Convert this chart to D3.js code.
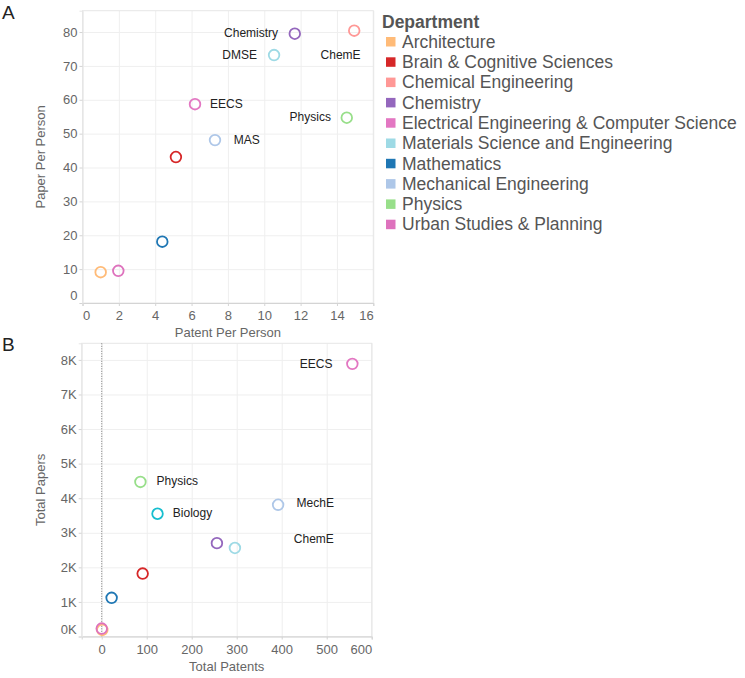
<!DOCTYPE html>
<html>
<head>
<meta charset="utf-8">
<script src="https://cdn.jsdelivr.net/npm/d3@7"></script>
<style>
  html, body { margin: 0; padding: 0; background: #fff; }
  svg { display: block; font-family: "Liberation Sans", Arial, Helvetica, sans-serif; }
</style>
</head>
<body>
<svg id="chart" width="745" height="678"></svg>
<script>
// ---------------- DATA ----------------
const departments = [
  "Architecture", "Brain & Cognitive Sciences", "Chemical Engineering", "Chemistry",
  "Electrical Engineering & Computer Science", "Materials Science and Engineering",
  "Mathematics", "Mechanical Engineering", "Physics", "Urban Studies & Planning"
];
const deptColors = ["#ffbb78", "#d62728", "#ff9896", "#9467bd", "#e377c2",
                    "#9edae5", "#1f77b4", "#aec7e8", "#98df8a", "#de72bd"];

// Panel A: per person
const patentPerPerson = [1.0, 5.14, 14.95, 11.68, 6.19, 10.54, 4.39, 7.29, 14.54, 1.97];
const paperPerPerson  = [9.1, 43.1, 80.4, 79.5, 58.7, 73.2, 18.1, 48.1, 54.7, 9.5];

// Panel B: totals
const totalDepts   = ["Architecture", "Urban Studies & Planning", "Mathematics", "Brain & Cognitive Sciences",
                      "Physics", "Biology", "Chemistry", "Materials Science and Engineering",
                      "Mechanical Engineering", "Electrical Engineering & Computer Science"];
const totalPatents = [1.3, 0, 22, 91, 86, 124, 256, 296, 392, 557];
const totalPapers  = [190, 230, 1120, 1820, 4470, 3550, 2700, 2560, 3810, 7885];
const extraColors  = { "Biology": "#17becf" };

// Point labels (text, x, y in data units, anchor)
const labelsA = [
  ["Chemistry", 10.76, 79.7, "end"],
  ["DMSE", 9.60, 73.2, "end"],
  ["ChemE", 14.2, 73.4, "middle"],
  ["EECS", 7.02, 58.9, "start"],
  ["MAS", 8.32, 48.3, "start"],
  ["Physics", 13.67, 55.0, "end"]
];
const labelsB = [
  ["EECS", 513, 7885, "end"],
  ["Physics", 122, 4490, "start"],
  ["Biology", 158, 3573, "start"],
  ["MechE", 433, 3863, "start"],
  ["ChemE", 427, 2812, "start"]
];

// Axes
const xTicksA = [0, 2, 4, 6, 8, 10, 12, 14, 16];
const yTicksA = [0, 10, 20, 30, 40, 50, 60, 70, 80];
const xTicksB = [0, 100, 200, 300, 400, 500, 600];
const yTicksB = [0, 1000, 2000, 3000, 4000, 5000, 6000, 7000, 8000];
const xDomainA = [0, 16], yDomainA = [0, 86.3];
const xDomainB = [-44.5, 600], yDomainB = [0, 8480];

// ---------------- DRAW ----------------
const svg = d3.select("#chart");
const color = d3.scaleOrdinal().domain(departments).range(deptColors);
const colorOf = d => extraColors[d] || color(d);

function panel(opt) {
  const { left, right, top, bottom, xDomain, yDomain, xTicks, yTicks, xFmt, yFmt,
          xs, ys, names, labels, xTitle, yTitle, letter, zeroRule } = opt;
  const x = d3.scaleLinear().domain(xDomain).range([left, right]);
  const y = d3.scaleLinear().domain(yDomain).range([bottom, top]);
  const g = svg.append("g");

  // gridlines
  g.append("g").attr("transform", `translate(0,${bottom})`)
    .call(d3.axisBottom(x).tickValues(xTicks).tickSize(-(bottom - top)).tickFormat(""))
    .call(s => s.select(".domain").remove())
    .call(s => s.selectAll("line").attr("stroke", "#efefef"));
  g.append("g").attr("transform", `translate(${left},0)`)
    .call(d3.axisLeft(y).tickValues(yTicks).tickSize(-(right - left)).tickFormat(""))
    .call(s => s.select(".domain").remove())
    .call(s => s.selectAll("line").attr("stroke", "#efefef"));

  // view border
  g.append("rect").attr("x", left).attr("y", top).attr("width", right - left).attr("height", bottom - top)
    .attr("fill", "none").attr("stroke", "#e6e6e6");

  if (zeroRule) {
    g.append("line").attr("x1", x(0)).attr("x2", x(0)).attr("y1", top).attr("y2", bottom)
      .attr("stroke", "#777").attr("stroke-dasharray", "1,1.5").attr("stroke-width", 1);
  }

  // x axis
  const xa = g.append("g").attr("transform", `translate(0,${bottom})`)
    .call(d3.axisBottom(x).tickValues(xTicks).tickSize(3).tickPadding(5).tickFormat(xFmt));
  xa.select(".domain").attr("stroke", "#d4d4d4");
  xa.selectAll("line").attr("stroke", "#d4d4d4");
  xa.selectAll("text").attr("fill", "#666").style("font-size", "13px");
  xa.selectAll("text").filter(d => x(d) <= left + 0.5).attr("text-anchor", "start");
  xa.selectAll("text").filter(d => x(d) >= right - 0.5).attr("text-anchor", "end");

  // y axis
  const ya = g.append("g").attr("transform", `translate(${left},0)`)
    .call(d3.axisLeft(y).tickValues(yTicks).tickSize(3).tickPadding(2).tickFormat(yFmt));
  ya.select(".domain").attr("stroke", "#e6e6e6");
  ya.selectAll("line").attr("stroke", "#d4d4d4");
  ya.selectAll("text").attr("fill", "#666").style("font-size", "13px");
  ya.selectAll("text").filter(d => y(d) >= bottom - 0.5).attr("dy", null).attr("y", -3.5);

  // titles
  g.append("text").attr("x", (left + right) / 2).attr("y", opt.xTitleY)
    .attr("text-anchor", "middle").attr("fill", "#666").style("font-size", "13px").text(xTitle);
  g.append("text").attr("transform", `translate(40,${(top + bottom) / 2}) rotate(-90)`)
    .attr("dy", "0.35em").attr("text-anchor", "middle").attr("fill", "#666").style("font-size", "13px").text(yTitle);

  // points
  g.append("g").selectAll("circle").data(names.map((n, i) => ({ n, x: xs[i], y: ys[i] })))
    .join("circle")
    .attr("cx", d => x(d.x)).attr("cy", d => y(d.y)).attr("r", 5.3)
    .attr("fill", "none").attr("stroke", d => colorOf(d.n)).attr("stroke-width", 1.8);

  // labels
  g.append("g").selectAll("text").data(labels).join("text")
    .attr("x", d => x(d[1])).attr("y", d => y(d[2])).attr("dy", "0.35em")
    .attr("text-anchor", d => d[3]).attr("fill", "#222").style("font-size", "12px")
    .text(d => d[0]);

  // panel letter
  svg.append("text").attr("x", 2).attr("y", opt.letterY).attr("fill", "#222")
    .style("font-size", "19px").text(letter);
}

panel({
  left: 82.5, right: 373.3, top: 10.7, bottom: 303,
  xDomain: xDomainA, yDomain: yDomainA, xTicks: xTicksA, yTicks: yTicksA,
  xFmt: d3.format("d"), yFmt: d3.format("d"),
  xs: patentPerPerson, ys: paperPerPerson, names: departments, labels: labelsA,
  xTitle: "Patent Per Person", yTitle: "Paper Per Person", xTitleY: 337,
  letter: "A", letterY: 19, zeroRule: false
});

panel({
  left: 81.7, right: 371.7, top: 343.3, bottom: 636.5,
  xDomain: xDomainB, yDomain: yDomainB, xTicks: xTicksB, yTicks: yTicksB,
  xFmt: d3.format("d"), yFmt: d => (d / 1000) + "K",
  xs: totalPatents, ys: totalPapers, names: totalDepts, labels: labelsB,
  xTitle: "Total Patents", yTitle: "Total Papers", xTitleY: 671,
  letter: "B", letterY: 351, zeroRule: true
});

// legend
const lg = svg.append("g");
lg.append("text").attr("x", 382).attr("y", 27.7).attr("fill", "#555")
  .style("font-size", "17.5px").style("font-weight", "bold").text("Department");
const rows = lg.selectAll("g.row").data(departments).join("g").attr("class", "row")
  .attr("transform", (d, i) => `translate(0,${41.7 + i * 20.3})`);
rows.append("rect").attr("x", 386).attr("y", -4.7).attr("width", 9.5).attr("height", 9.5)
  .attr("fill", d => color(d));
rows.append("text").attr("x", 402).attr("y", 6).attr("fill", "#555")
  .style("font-size", "17.5px").text(d => d);
</script>
</body>
</html>
